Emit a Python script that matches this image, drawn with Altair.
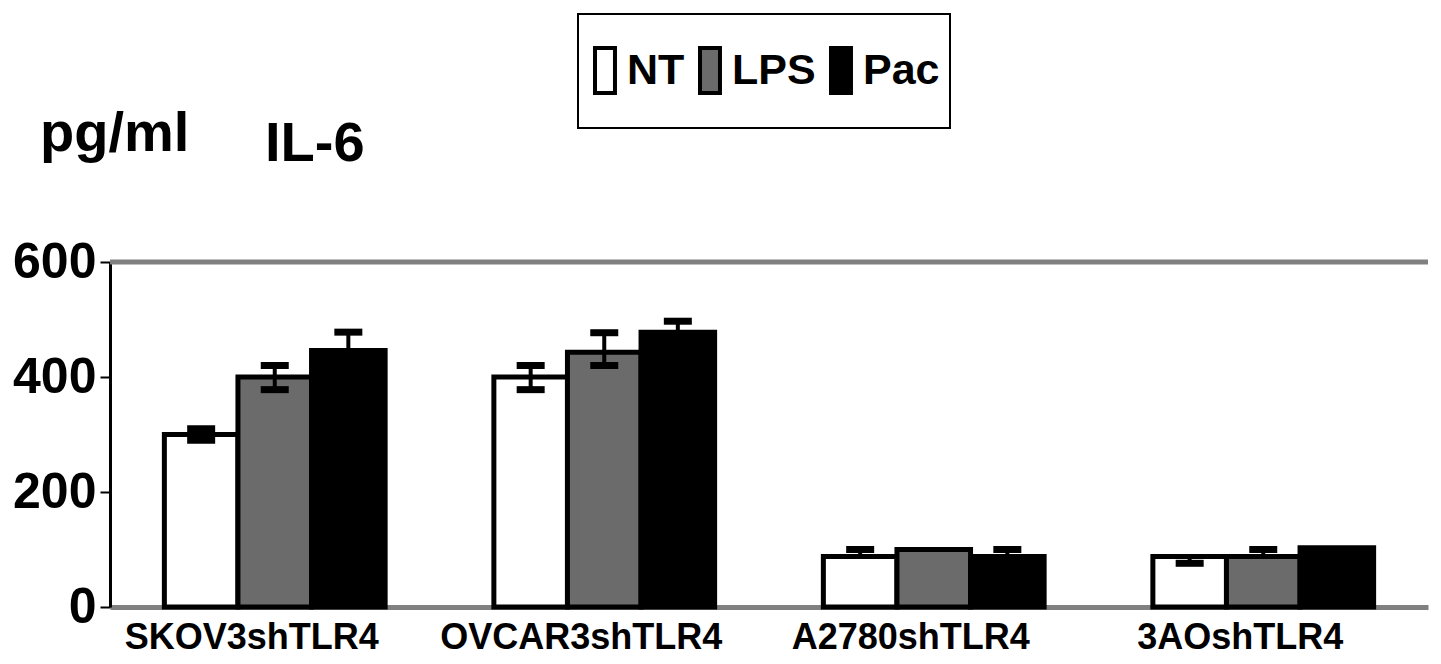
import altair as alt
import pandas as pd

categories = ["SKOV3shTLR4", "OVCAR3shTLR4", "A2780shTLR4", "3AOshTLR4"]
treatments = ["NT", "LPS", "Pac"]
nt_mean = [300, 400, 88, 88]
lps_mean = [400, 443, 100, 88]
pac_mean = [446, 478, 88, 103]
nt_up = [10, 20, 12, 0]
nt_down = [10, 22, 0, 12]
lps_up = [20, 34, 0, 12]
lps_down = [22, 23, 0, 0]
pac_up = [32, 19, 12, 0]
pac_down = [0, 0, 0, 0]
fill_colors = ["white", "#6b6b6b", "black"]
y_ticks = [0, 200, 400, 600]

rows = []
for t, means, ups, downs in zip(treatments, [nt_mean, lps_mean, pac_mean],
                                [nt_up, lps_up, pac_up], [nt_down, lps_down, pac_down]):
    for c, m, u, d in zip(categories, means, ups, downs):
        rows.append({"Cell": c, "Treatment": t, "Mean": m, "lo": m - d, "hi": m + u,
                     "up": u, "down": d})
df = pd.DataFrame(rows)

x_enc = alt.X("Cell:N", sort=categories,
              scale=alt.Scale(paddingInner=0.33, paddingOuter=0.165),
              axis=alt.Axis(title=None, labelAngle=0, ticks=False, domainColor="#808080",
                            domainWidth=5, labelFontSize=36, labelFontWeight="bold",
                            labelPadding=13, labelColor="black", labelLimit=0,
                            labelOffset=-23))
xo_enc = alt.XOffset("Treatment:N", sort=treatments,
                     scale=alt.Scale(domain=treatments, paddingInner=0, paddingOuter=0))

base = alt.Chart(df)

bars = base.mark_bar(stroke="black", strokeWidth=5).encode(
    x=x_enc,
    xOffset=xo_enc,
    y=alt.Y("Mean:Q", scale=alt.Scale(domain=[0, 600]),
            axis=alt.Axis(title=None, values=y_ticks, grid=False, domainColor="black",
                          domainWidth=3, tickColor="black", tickWidth=2, tickSize=10,
                          labelFontSize=50, labelFontWeight="bold", labelPadding=4,
                          labelColor="black")),
    fill=alt.Fill("Treatment:N", sort=treatments,
                  scale=alt.Scale(domain=treatments, range=fill_colors),
                  legend=alt.Legend(title=None,
                                    orient="none", legendX=474, legendY=-213,
                                    direction="horizontal",
                                    symbolType="M-0.875,-1.875H0.79V1.875H-0.875Z",
                                    symbolSize=576, symbolStrokeColor="black",
                                    symbolStrokeWidth=4, symbolOpacity=1,
                                    labelFontSize=43, labelFontWeight="bold",
                                    labelColor="black", labelOffset=0, labelLimit=0,
                                    columnPadding=4, padding=0)),
)

err = base.mark_rule(color="black", strokeWidth=4).encode(
    x=alt.X("Cell:N", sort=categories),
    xOffset=xo_enc,
    y="lo:Q", y2="hi:Q",
)
cap_hi = base.transform_filter("datum.up > 0").mark_tick(
    color="black", thickness=7, size=28, opacity=1).encode(
    x=alt.X("Cell:N", sort=categories), xOffset=xo_enc, y="hi:Q")
cap_lo = base.transform_filter("datum.down > 0").mark_tick(
    color="black", thickness=7, size=28, opacity=1).encode(
    x=alt.X("Cell:N", sort=categories), xOffset=xo_enc, y="lo:Q")

top_line = alt.Chart(pd.DataFrame({"v": [600]})).mark_rule(
    color="#808080", strokeWidth=5).encode(y="v:Q")

legend_frame = alt.Chart(pd.DataFrame({"k": [0]})).mark_rect(
    fill="white", fillOpacity=0, stroke="black", strokeWidth=2).encode(
    x=alt.value(468), x2=alt.value(840), y=alt.value(-248), y2=alt.value(-134))

unit = alt.Chart(pd.DataFrame({"t": ["pg/ml"]})).mark_text(
    fontSize=56, fontWeight="bold", align="left", baseline="alphabetic", color="black"
).encode(text="t:N", x=alt.value(-70), y=alt.value(-111))
label = alt.Chart(pd.DataFrame({"t": ["IL-6"]})).mark_text(
    fontSize=56, fontWeight="bold", align="left", baseline="alphabetic", color="black"
).encode(text="t:N", x=alt.value(155), y=alt.value(-101))

chart = alt.layer(bars, err, cap_hi, cap_lo, top_line, legend_frame, unit, label).properties(
    width=1318, height=345,
    autosize=alt.AutoSizeParams(type="none"),
    padding={"left": 102, "top": 254, "right": 5, "bottom": 50},
).configure(font="Liberation Sans").configure_view(stroke=None)

chart.save("out.html", embed_options={"renderer": "svg", "actions": False})
